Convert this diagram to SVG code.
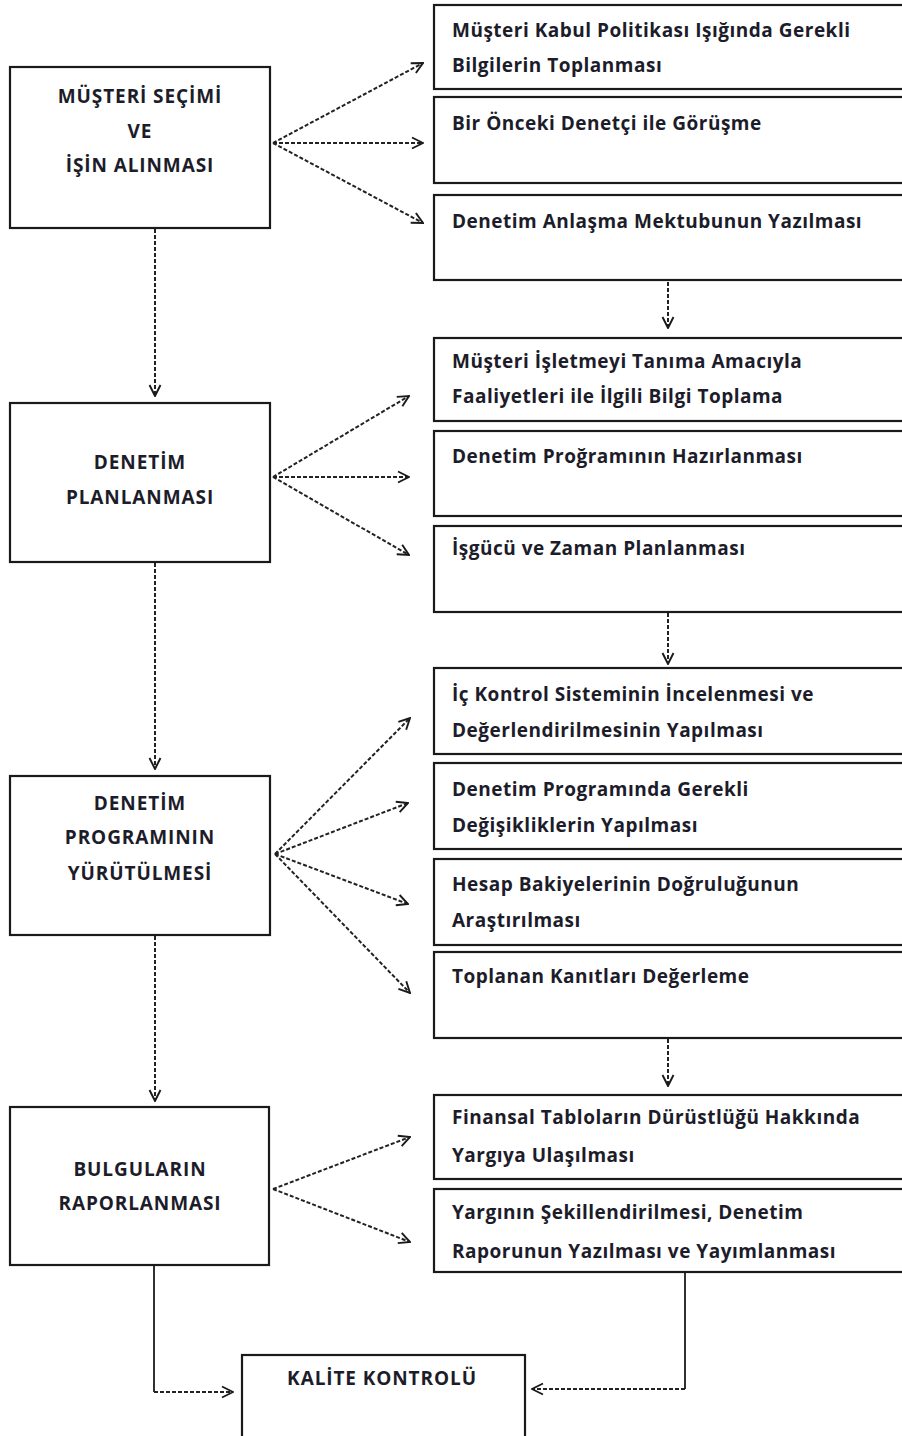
<svg xmlns="http://www.w3.org/2000/svg" width="902" height="1436" viewBox="0 0 902 1436">
  <style>
    .box { fill: #ffffff; stroke: #1a1a1a; stroke-width: 2.2; }
    .lbl { font-family: "Open Sans", "Liberation Sans", sans-serif; font-weight: 700; font-size: 19px; letter-spacing: 0.5px; fill: #1c1c2a; }
    .cap { letter-spacing: 0.9px; }
    .ctr { text-anchor: middle; }
    .dash { fill: none; stroke: #222222; stroke-width: 2; stroke-dasharray: 4 2; marker-end: url(#arr); }
    .solid { fill: none; stroke: #1a1a1a; stroke-width: 1.8; }
  </style>
  <defs>
    <marker id="arr" viewBox="0 0 14 14" refX="13" refY="7" markerWidth="14" markerHeight="14" markerUnits="userSpaceOnUse" orient="auto">
      <path d="M2,1.5 L13,7 L2,12.5" fill="none" stroke="#1a1a1a" stroke-width="1.9"/>
    </marker>
  </defs>
  <rect width="902" height="1436" fill="#ffffff"/>

  <!-- connectors -->
  <g id="connectors">
    <!-- stage 1 fan -->
    <path class="dash" d="M273,143 L423,63"/>
    <path class="dash" d="M273,143 L423,143"/>
    <path class="dash" d="M273,143 L423,223"/>
    <!-- stage 2 fan -->
    <path class="dash" d="M273,477 L409,396"/>
    <path class="dash" d="M273,477 L409,477"/>
    <path class="dash" d="M273,477 L409,555"/>
    <!-- stage 3 fan -->
    <path class="dash" d="M275,854 L410,718"/>
    <path class="dash" d="M275,854 L408,803"/>
    <path class="dash" d="M275,854 L408,904"/>
    <path class="dash" d="M275,854 L410,993"/>
    <!-- stage 4 fan -->
    <path class="dash" d="M273,1189 L410,1137"/>
    <path class="dash" d="M273,1189 L410,1242"/>
    <!-- left column flow -->
    <path class="dash" d="M155,229 L155,396"/>
    <path class="dash" d="M155,563 L155,769"/>
    <path class="dash" d="M155,936 L155,1101"/>
    <!-- right column flow -->
    <path class="dash" d="M668,282 L668,328"/>
    <path class="dash" d="M668,613 L668,664"/>
    <path class="dash" d="M668,1039 L668,1086"/>
    <!-- to quality control -->
    <path class="solid" d="M154,1265 L154,1392"/>
    <path class="dash" d="M154,1392 L233,1392"/>
    <path class="solid" d="M685,1272 L685,1389"/>
    <path class="dash" d="M685,1389 L532,1389"/>
  </g>

  <!-- main stages -->
  <g id="musteri-secimi">
    <rect class="box" x="10" y="67" width="260" height="161"/>
    <text class="lbl cap ctr" x="140" y="103">MÜŞTERİ SEÇİMİ</text>
    <text class="lbl cap ctr" x="140" y="138">VE</text>
    <text class="lbl cap ctr" x="140" y="172">İŞİN ALINMASI</text>
  </g>
  <g id="denetim-planlanmasi">
    <rect class="box" x="10" y="403" width="260" height="159"/>
    <text class="lbl cap ctr" x="140" y="469">DENETİM</text>
    <text class="lbl cap ctr" x="140" y="504">PLANLANMASI</text>
  </g>
  <g id="denetim-programi">
    <rect class="box" x="10" y="776" width="260" height="159"/>
    <text class="lbl cap ctr" x="140" y="810">DENETİM</text>
    <text class="lbl cap ctr" x="140" y="844">PROGRAMININ</text>
    <text class="lbl cap ctr" x="140" y="880">YÜRÜTÜLMESİ</text>
  </g>
  <g id="bulgular">
    <rect class="box" x="10" y="1107" width="259" height="158"/>
    <text class="lbl cap ctr" x="140" y="1176">BULGULARIN</text>
    <text class="lbl cap ctr" x="140" y="1210">RAPORLANMASI</text>
  </g>
  <g id="kalite-kontrolu">
    <rect class="box" x="242" y="1355" width="283" height="90"/>
    <text class="lbl cap ctr" x="382" y="1385">KALİTE KONTROLÜ</text>
  </g>

  <!-- stage 1 tasks -->
  <g id="t1-bilgi">
    <rect class="box" x="434" y="5" width="480" height="84"/>
    <text class="lbl" x="452" y="37">Müşteri Kabul Politikası Işığında Gerekli</text>
    <text class="lbl" x="452" y="72">Bilgilerin Toplanması</text>
  </g>
  <g id="t1-gorusme">
    <rect class="box" x="434" y="97" width="480" height="86"/>
    <text class="lbl" x="452" y="130">Bir Önceki Denetçi ile Görüşme</text>
  </g>
  <g id="t1-mektup">
    <rect class="box" x="434" y="195" width="480" height="85"/>
    <text class="lbl" x="452" y="228">Denetim Anlaşma Mektubunun Yazılması</text>
  </g>

  <!-- stage 2 tasks -->
  <g id="t2-tanima">
    <rect class="box" x="434" y="338" width="480" height="83"/>
    <text class="lbl" x="452" y="368">Müşteri İşletmeyi Tanıma Amacıyla</text>
    <text class="lbl" x="452" y="403">Faaliyetleri ile İlgili Bilgi Toplama</text>
  </g>
  <g id="t2-program">
    <rect class="box" x="434" y="431" width="480" height="85"/>
    <text class="lbl" x="452" y="463">Denetim Proğramının Hazırlanması</text>
  </g>
  <g id="t2-isgucu">
    <rect class="box" x="434" y="526" width="480" height="86"/>
    <text class="lbl" x="452" y="555">İşgücü ve Zaman Planlanması</text>
  </g>

  <!-- stage 3 tasks -->
  <g id="t3-ic-kontrol">
    <rect class="box" x="434" y="668" width="480" height="86"/>
    <text class="lbl" x="452" y="701">İç Kontrol Sisteminin İncelenmesi ve</text>
    <text class="lbl" x="452" y="737">Değerlendirilmesinin Yapılması</text>
  </g>
  <g id="t3-degisiklik">
    <rect class="box" x="434" y="763" width="480" height="86"/>
    <text class="lbl" x="452" y="796">Denetim Programında Gerekli</text>
    <text class="lbl" x="452" y="832">Değişikliklerin Yapılması</text>
  </g>
  <g id="t3-bakiye">
    <rect class="box" x="434" y="859" width="480" height="86"/>
    <text class="lbl" x="452" y="891">Hesap Bakiyelerinin Doğruluğunun</text>
    <text class="lbl" x="452" y="927">Araştırılması</text>
  </g>
  <g id="t3-kanit">
    <rect class="box" x="434" y="952" width="480" height="86"/>
    <text class="lbl" x="452" y="983">Toplanan Kanıtları Değerleme</text>
  </g>

  <!-- stage 4 tasks -->
  <g id="t4-yargi">
    <rect class="box" x="434" y="1095" width="480" height="84"/>
    <text class="lbl" x="452" y="1124">Finansal Tabloların Dürüstlüğü Hakkında</text>
    <text class="lbl" x="452" y="1162">Yargıya Ulaşılması</text>
  </g>
  <g id="t4-rapor">
    <rect class="box" x="434" y="1189" width="480" height="83"/>
    <text class="lbl" x="452" y="1219">Yargının Şekillendirilmesi, Denetim</text>
    <text class="lbl" x="452" y="1258">Raporunun Yazılması ve Yayımlanması</text>
  </g>
</svg>
